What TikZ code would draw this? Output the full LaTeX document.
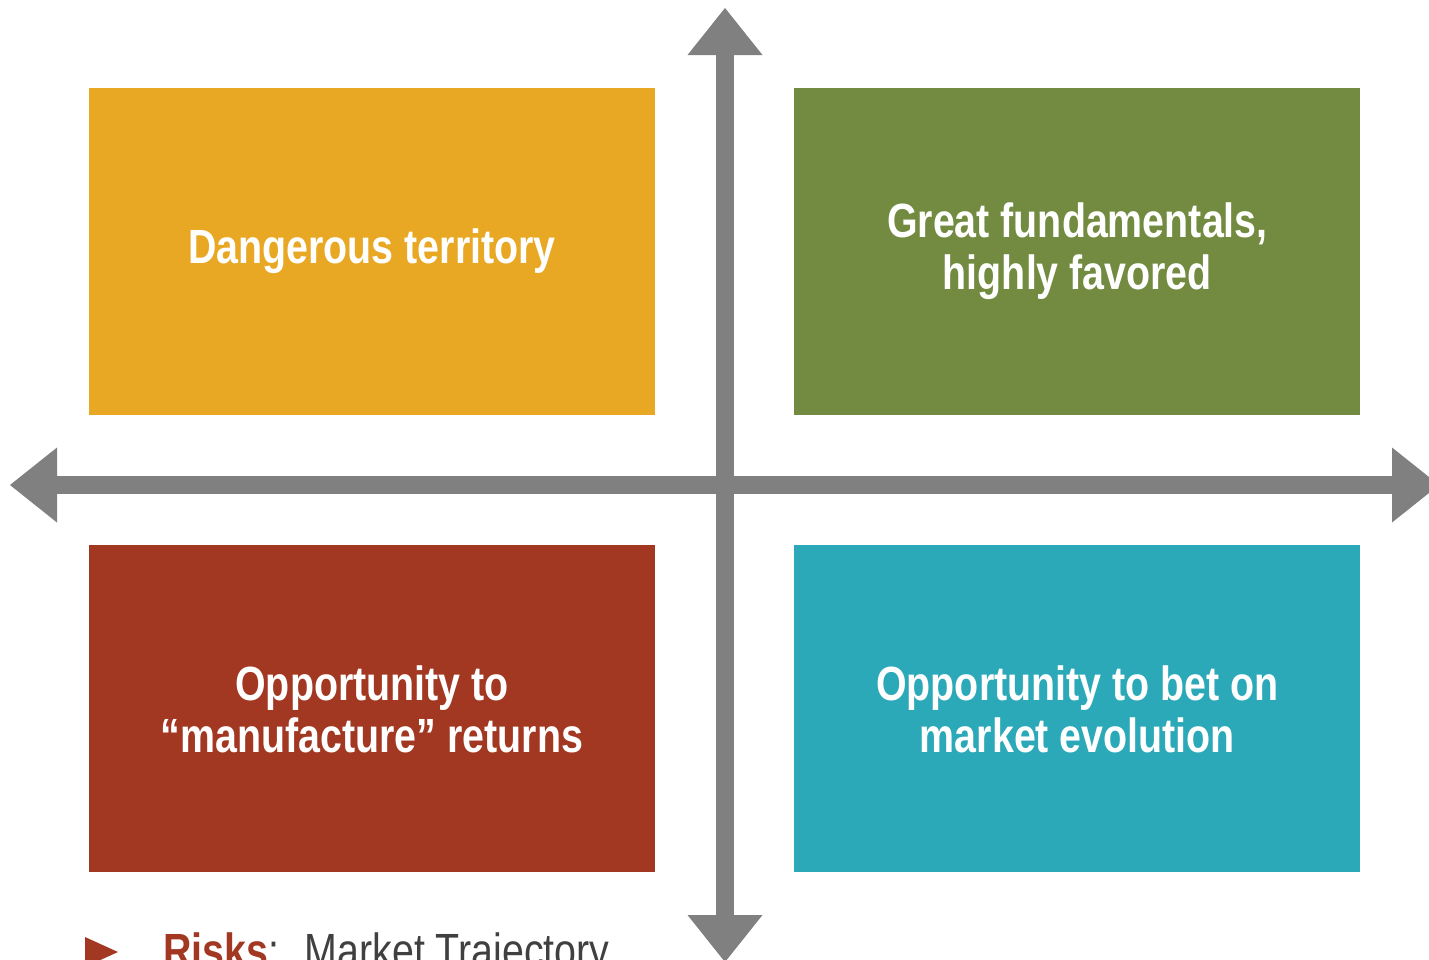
\documentclass[tikz,border=0pt]{standalone}
\usepackage{fontspec}
\setmainfont{Liberation Sans}[FakeStretch=0.82]
\usepackage{tikz}
\usetikzlibrary{arrows.meta,positioning}
\definecolor{danger}{HTML}{E9A824}
\definecolor{great}{HTML}{728B40}
\definecolor{manufacture}{HTML}{A33822}
\definecolor{evolution}{HTML}{2BA9B8}
\definecolor{axisgray}{HTML}{808080}
\definecolor{textgray}{HTML}{404040}
\tikzstyle{quadrant} = [rectangle, minimum width=566pt, minimum height=327pt, inner sep=0pt, text=white, align=center, font=\fontsize{48}{52}\selectfont\bfseries]
\tikzstyle{axis} = [draw=axisgray, line width=18pt, {Triangle[width=75pt,length=47pt,line width=0pt]}-{Triangle[width=75pt,length=47pt,line width=0pt]}]

\begin{document}
\begin{tikzpicture}[x=1pt, y=-1pt]
    \clip (0,0) rectangle (1429,959);
    % Place nodes
    \node [quadrant, fill=danger] (danger) at (372,251.5) {\raisebox{-3pt}{Dangerous territory}};
    \node [quadrant, fill=great, right=139pt of danger] (great) {Great fundamentals,\\highly favored};
    \node [quadrant, fill=manufacture, below=130pt of danger] (manufacture) {Opportunity to\\``manufacture'' returns};
    \node [quadrant, fill=evolution, below=130pt of great] (evolution) {Opportunity to bet on\\market evolution};
    \coordinate (west) at (10,485);
    \coordinate (east) at (1439,485);
    \coordinate (north) at (725,8);
    \coordinate (south) at (725,962);
    % Draw axes
    \path [axis] (south) -- (north);
    \path [axis] (west) -- (east);
    % Bottom note
    \node [anchor=base west, inner sep=0pt, text=textgray, font=\fontsize{48}{52}\selectfont] (risks) at (163,967) {\textcolor{manufacture}{\bfseries Risks}:~ Market Trajectory};
    \fill [manufacture] (85,937) -- (118,952) -- (85,967) -- cycle;
\end{tikzpicture}
\end{document}
